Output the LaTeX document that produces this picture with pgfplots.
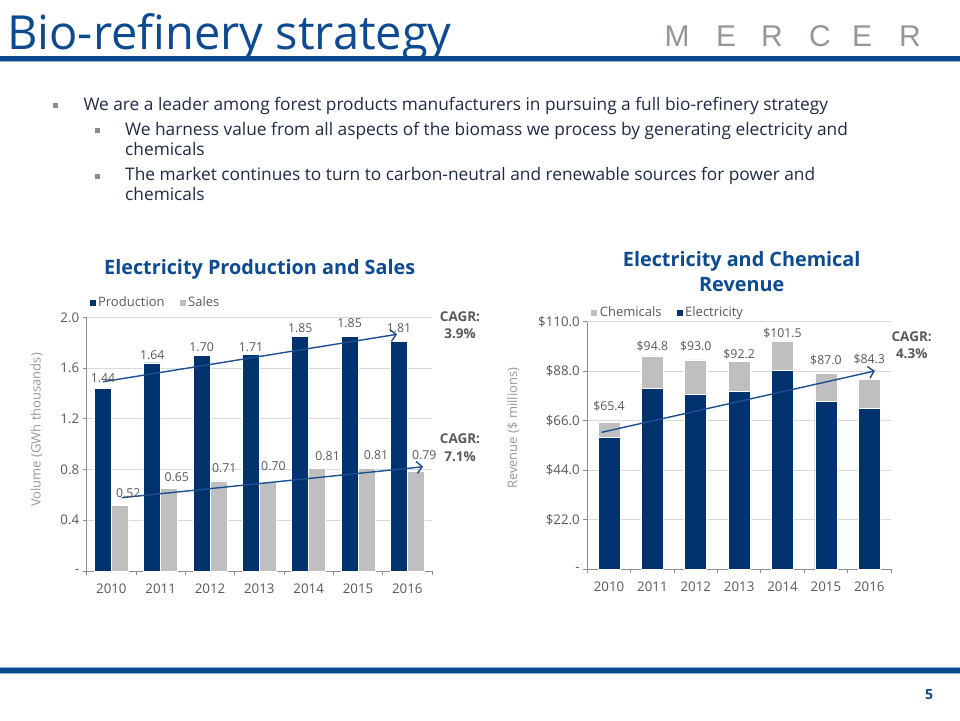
\documentclass[border=0pt]{standalone}
\usepackage{pgfplots}
\pgfplotsset{compat=1.18}
\usepackage{fontspec}
\setmainfont{Open Sans}
\newfontfamily\logofont{Liberation Sans}
\usetikzlibrary{arrows.meta}
\definecolor{navy}{HTML}{00336E}
\definecolor{barg}{HTML}{BFBFBF}
\definecolor{ttl}{HTML}{0E4A90}
\definecolor{arr}{HTML}{1C4F8F}
\definecolor{txg}{HTML}{595959}
\definecolor{axg}{HTML}{8C8C8C}
\definecolor{ylg}{HTML}{999999}
\definecolor{grd}{HTML}{D9D9D9}
\definecolor{body}{HTML}{1E2B45}
\definecolor{lightline}{HTML}{8DB3E2}
\definecolor{logog}{HTML}{9A9494}
\newcommand\fs[1]{\fontsize{#1}{#1}\selectfont}
\pgfplotsset{
  slide/.style={scale only axis, anchor=south west, xmin=-0.5, xmax=6.5, clip=false},
  base/.style={slide,
    axis x line*=bottom, axis y line*=left,
    axis line style={draw=axg, line width=0.8pt},
    tick align=outside, major tick length=4pt,
    tick style={draw=axg, line width=0.8pt},
    ymajorgrids, grid style={draw=grd, line width=0.8pt},
    xtick={-0.5,0.5,...,6.5}, xticklabels={},
    extra x ticks={0,1,2,3,4,5,6},
    extra x tick labels={2010,2011,2012,2013,2014,2015,2016},
    extra x tick style={major tick length=0pt, tick label style={yshift=-9pt}},
    ticklabel style={font=\fs{13.3}, text=txg},
    legend style={draw=none, fill=none, font=\fs{13}, text=txg, inner sep=0pt,
      anchor=west, /tikz/every even column/.append style={column sep=12pt}},
  },
  over/.style={slide, hide axis},
  sq/.style={legend image code/.code={\fill[##1] (0pt,-3.5pt) rectangle (7pt,3.5pt);}},
  lbl/.style={only marks, mark=*, mark size=0pt, mark options={draw=none, fill=none},
    nodes near coords, point meta=explicit symbolic,
    every node near coord/.append style={anchor=center, font=\fs{12.3}, text=txg, inner sep=0pt}},
}
\begin{document}
\begin{tikzpicture}
\useasboundingbox (0,0) rectangle (960pt,-720pt);
\fill[white] (0,0) rectangle (960pt,-720pt);
% header
\node[anchor=base west, inner sep=0, font=\fs{47}, text=ttl] at (7pt,-49pt) {Bio-refinery strategy};
\fill[ttl] (0,-56pt) rectangle (960pt,-60.5pt);
\fill[lightline] (0,-60.5pt) rectangle (960pt,-61.8pt);
\foreach \c/\x in {M/677,E/726,R/772,C/820,E/862,R/910}
  \node[anchor=base, inner sep=0, font=\logofont\fs{30}, text=logog] at (\x pt,-46pt) {\c};
% bullets
\fill[axg] (53.3pt,-102.5pt) rectangle ++(5pt,-5pt);
\fill[axg] (95pt,-128.2pt) rectangle ++(5pt,-5pt);
\fill[axg] (95pt,-174.2pt) rectangle ++(5pt,-5pt);
\begin{scope}[every node/.style={anchor=base west, inner sep=0, font=\fs{17.3}, text=body}]
\node at (83.3pt,-110pt) {We are a leader among forest products manufacturers in pursuing a full bio-refinery strategy};
\node at (125pt,-135pt) {We harness value from all aspects of the biomass we process by generating electricity and};
\node at (125pt,-155pt) {chemicals};
\node at (125pt,-180.5pt) {The market continues to turn to carbon-neutral and renewable sources for power and};
\node at (125pt,-200pt) {chemicals};
\end{scope}
% footer
\fill[lightline] (0,-666.8pt) rectangle (960pt,-668pt);
\fill[ttl] (0,-668pt) rectangle (960pt,-672.5pt);
\fill[lightline] (0,-672.5pt) rectangle (960pt,-673.6pt);
\node[font=\bfseries\fs{14}, text=ttl] at (929pt,-695pt) {5};
% chart titles
\node[font=\bfseries\fs{19.8}, text=ttl] at (259.7pt,-269pt) {Electricity Production and Sales};
\node[font=\bfseries\fs{19.8}, text=ttl] at (741.7pt,-261.7pt) {Electricity and Chemical};
\node[font=\bfseries\fs{19.8}, text=ttl] at (741.7pt,-285pt) {Revenue};
\node[rotate=90, font=\fs{13}, text=ylg] at (36.7pt,-430pt) {Volume (GWh thousands)};
\node[rotate=90, font=\fs{13}, text=ylg] at (513.3pt,-428.3pt) {Revenue (\$ millions)};
\begin{scope}[every node/.style={font=\bfseries\fs{13.5}, text=txg}]
\node at (460pt,-316.7pt) {CAGR:};
\node at (460pt,-334pt) {3.9\%};
\node at (460pt,-439pt) {CAGR:};
\node at (460pt,-456.7pt) {7.1\%};
\node at (911.7pt,-336.7pt) {CAGR:};
\node at (911.7pt,-353.3pt) {4.3\%};
\end{scope}
% ---------- left chart ----------
\begin{axis}[base, at={(86.7pt,-571pt)}, width=345.3pt, height=253.7pt,
  ymin=0, ymax=2, ytick={0,0.4,0.8,1.2,1.6,2.0}, yticklabels={-,0.4,0.8,1.2,1.6,2.0},
  ybar, bar width=17pt, legend columns=2, legend style={at={(0.005,1.0575)}}]
\addplot[sq, fill=navy, draw=white, line width=0.5pt, bar shift=-8.5pt]
  coordinates {(0,1.44)(1,1.64)(2,1.70)(3,1.71)(4,1.85)(5,1.85)(6,1.81)};
\addplot[sq, fill=barg, draw=white, line width=0.5pt, bar shift=8.5pt]
  coordinates {(0,0.52)(1,0.65)(2,0.71)(3,0.70)(4,0.81)(5,0.81)(6,0.79)};
\legend{Production,Sales}
\end{axis}
\begin{axis}[over, at={(86.7pt,-571pt)}, width=345.3pt, height=253.7pt, ymin=0, ymax=2]
\addplot[arr, line width=1.4pt, -{Straight Barb[length=5.5pt,width=12pt,line width=1.4pt]}]
  coordinates {(-0.17,1.492)(5.79,1.866)};
\addplot[arr, line width=1.4pt, -{Straight Barb[length=5.5pt,width=12pt,line width=1.4pt]}]
  coordinates {(0.21,0.578)(6.32,0.822)};
\addplot[lbl] coordinates {(-0.17,1.524)[1.44] (0.83,1.703)[1.64] (1.83,1.768)[1.70]
  (2.83,1.763)[1.71] (3.83,1.918)[1.85] (4.83,1.953)[1.85] (5.83,1.913)[1.81]};
\addplot[lbl] coordinates {(0.344,0.613)[0.52] (1.326,0.743)[0.65] (2.289,0.810)[0.71]
  (3.285,0.828)[0.70] (4.384,0.907)[0.81] (5.364,0.914)[0.81] (6.342,0.914)[0.79]};
\end{axis}
% ---------- right chart ----------
\begin{axis}[base, at={(587.3pt,-569pt)}, width=303.7pt, height=247.3pt,
  ymin=0, ymax=110, ytick={0,22,44,66,88,110},
  yticklabels={-,\$22.0,\$44.0,\$66.0,\$88.0,\$110.0},
  ybar stacked, bar width=22pt, legend columns=2, reverse legend,
  legend style={at={(0.009,1.038)}}]
\addplot[sq, fill=navy, draw=white, line width=0.6pt]
  coordinates {(0,58.4)(1,80.4)(2,77.8)(3,79.0)(4,88.4)(5,74.6)(6,71.3)};
\addplot[sq, fill=barg, draw=white, line width=0.6pt]
  coordinates {(0,7.0)(1,14.4)(2,15.2)(3,13.2)(4,13.1)(5,12.4)(6,13.0)};
\legend{Electricity,Chemicals}
\end{axis}
\begin{axis}[over, at={(587.3pt,-569pt)}, width=303.7pt, height=247.3pt, ymin=0, ymax=110]
\addplot[arr, line width=1.4pt, -{Straight Barb[length=5.5pt,width=12pt,line width=1.4pt]}]
  coordinates {(-0.17,60.8)(6.13,88.1)};
\addplot[lbl] coordinates {(0,72.5)[\$65.4] (1,99.2)[\$94.8] (2,98.9)[\$93.0]
  (3,95.6)[\$92.2] (4,105.1)[\$101.5] (5,93.0)[\$87.0] (6,93.3)[\$84.3]};
\end{axis}
\end{tikzpicture}
\end{document}
